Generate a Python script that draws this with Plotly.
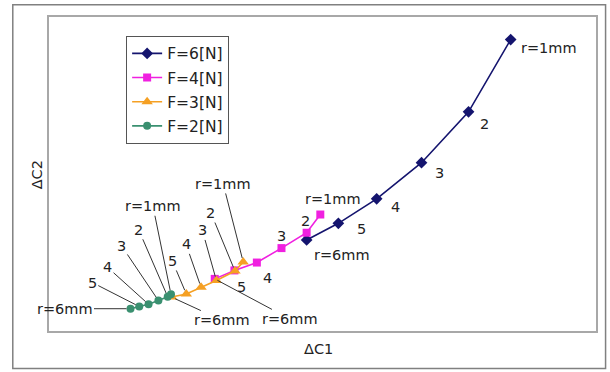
import plotly.graph_objects as go

# radius labels (r = 1..6 mm)
r_labels = ["r=1mm", "2", "3", "4", "5", "r=6mm"]

# series values (arbitrary units)
f6_x = [84.4, 76.7, 68.1, 59.9, 52.9, 47.1]
f6_y = [92.8, 69.8, 53.6, 42.1, 34.3, 29.0]
f4_x = [49.6, 47.1, 42.5, 38.0, 33.9, 30.3]
f4_y = [37.1, 31.3, 26.4, 21.8, 19.3, 16.6]
f3_x = [35.5, 34.0, 30.6, 27.8, 25.1, 22.4]
f3_y = [22.0, 19.1, 16.1, 13.9, 11.8, 10.8]
f2_x = [22.3, 21.7, 20.0, 18.2, 16.5, 14.9]
f2_y = [11.7, 10.9, 9.7, 8.5, 7.8, 7.1]

series = [
    ("F=6[N]", f6_x, f6_y, "#14146e", "diamond", 9),
    ("F=4[N]", f4_x, f4_y, "#f020e0", "square", 8),
    ("F=3[N]", f3_x, f3_y, "#f5a023", "triangle-up", 10),
    ("F=2[N]", f2_x, f2_y, "#3a9070", "circle", 8),
]

FONT = "DejaVu Sans"
TXT = "#222222"
FS = 14.5

fig = go.Figure()
for i, (name, xs, ys, col, sym, sz) in enumerate(series):
    fig.add_trace(go.Scatter(
        x=xs, y=ys, name=name, mode="lines+markers",
        line=dict(color=col, width=1.6),
        marker=dict(color=col, symbol=sym, size=sz, line=dict(width=0)),
        legendgroup="g%d" % i,
    ))

annotations = []

# labels without leader lines: (xshift, yshift) in px
f6_off = [(38, -8), (16, -12), (18, -10), (19, -8), (23, -6), (35, -15)]
for k, (dx, dy) in enumerate(f6_off):
    annotations.append(dict(x=f6_x[k], y=f6_y[k], text=r_labels[k], showarrow=False,
                            xshift=dx, yshift=dy))
f4_off = [(13, 16), (-1, 12), (0, 12), (11, -15), (7, -17)]
for k, (dx, dy) in enumerate(f4_off):
    annotations.append(dict(x=f4_x[k], y=f4_y[k], text=r_labels[k], showarrow=False,
                            xshift=dx, yshift=dy))
# F=4 r=6 with leader
annotations.append(dict(x=f4_x[5], y=f4_y[5], text=r_labels[5], showarrow=True,
                        ax=75, ay=40, standoff=3))

# F=3 with leaders (ax, ay)
f3_off = [(-20, -78), (-24, -58), (-14, -50), (-15, -43), (-14, -33), (50, 23)]
for k, (ax, ay) in enumerate(f3_off):
    annotations.append(dict(x=f3_x[k], y=f3_y[k], text=r_labels[k], showarrow=True,
                            ax=ax, ay=ay, standoff=4))
# F=2 with leaders
f2_off = [(-18, -88), (-29, -67), (-37, -55), (-41, -37), (-47, -24), (-66, 0)]
for k, (ax, ay) in enumerate(f2_off):
    annotations.append(dict(x=f2_x[k], y=f2_y[k], text=r_labels[k], showarrow=True,
                            ax=ax, ay=ay, standoff=4))

for a in annotations:
    a.update(xref="x", yref="y", font=dict(family=FONT, size=FS, color=TXT))
    if a["showarrow"]:
        a.update(arrowhead=0, arrowwidth=1, arrowcolor="#333333")

# axis titles
annotations.append(dict(xref="paper", yref="paper", x=0.492, y=-0.024, yanchor="top",
                        text="ΔC1", showarrow=False,
                        font=dict(family=FONT, size=FS, color=TXT)))
annotations.append(dict(xref="paper", yref="paper", x=-0.003, y=0.497, xanchor="right",
                        text="ΔC2", showarrow=False, textangle=-90,
                        font=dict(family=FONT, size=FS, color=TXT)))

fig.update_layout(
    width=610, height=372,
    margin=dict(l=49, r=12, t=17, b=41),
    paper_bgcolor="white", plot_bgcolor="white",
    showlegend=True,
    legend=dict(x=0.141, y=0.94, xanchor="left", yanchor="top",
                bordercolor="#555555", borderwidth=1, bgcolor="white",
                font=dict(family=FONT, size=15.5, color=TXT),
                tracegroupgap=1),
    annotations=annotations,
    shapes=[dict(type="rect", xref="paper", yref="paper",
                 x0=-0.0662, x1=1.0175, y0=-0.1195, y1=1.0392,
                 line=dict(color="#808080", width=1.5))],
)
fig.update_xaxes(range=[0, 100], showgrid=False, zeroline=False, showticklabels=False,
                 ticks="", showline=True, mirror=True, linecolor="#a8a8a8", linewidth=2)
fig.update_yaxes(range=[0, 100], showgrid=False, zeroline=False, showticklabels=False,
                 ticks="", showline=True, mirror=True, linecolor="#a8a8a8", linewidth=2)

fig.write_html("out.html", config={"displayModeBar": False},
               post_script="document.body.style.margin='0';")
